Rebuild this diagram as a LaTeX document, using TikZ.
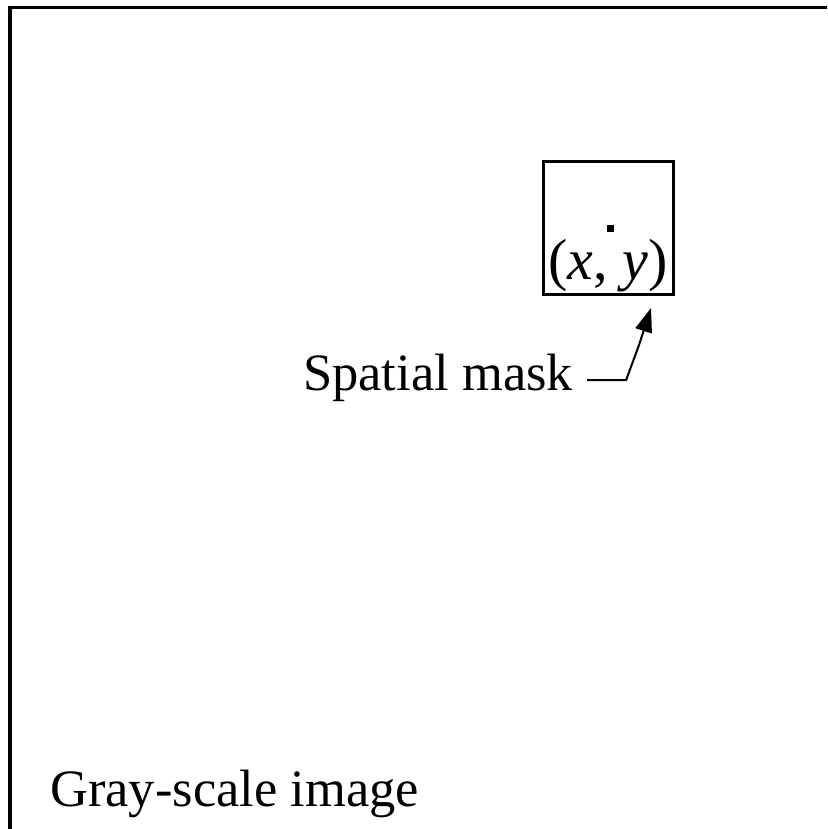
\documentclass[tikz,border=0pt]{standalone}
\usepackage{fontspec}
\setmainfont{Liberation Serif}
\usetikzlibrary{arrows.meta}
\begin{document}
\begin{tikzpicture}[x=1pt,y=-1pt,
  lbl/.style={inner sep=0pt,anchor=base west,font=\fontsize{52.5}{60}\selectfont},
  maskbox/.style={draw,line width=3pt,minimum width=130pt,minimum height=133pt,inner sep=0pt},
  frameline/.style={line width=3.5pt},
  pointer/.style={line width=2pt,-{Triangle[length=24pt,width=17pt]}}]
\useasboundingbox (0,0) rectangle (827,829);
\draw[frameline] (10,829) -- (10,7.5) -- (827,7.5);
\node[maskbox] (mask) at (608.5,228) {};
\fill (606.5,224.5) rectangle (613.5,231.5);
\node[inner sep=0pt,anchor=base,font=\fontsize{58}{66}\selectfont] (xy) at (608,279) {(\textit{x}, \textit{y})};
\node[lbl] (spatial) at (303,390) {Spatial mask};
\node[lbl] (gray) at (50,806) {Gray-scale image};
\coordinate (start) at ([xshift=14pt,yshift=10pt]spatial.base east);
\coordinate (tip) at ([xshift=42.5pt,yshift=-12pt]mask.south);
\draw[pointer] (start) -- ++(39,0) -- (639,345) -- (tip);
\end{tikzpicture}
\end{document}
